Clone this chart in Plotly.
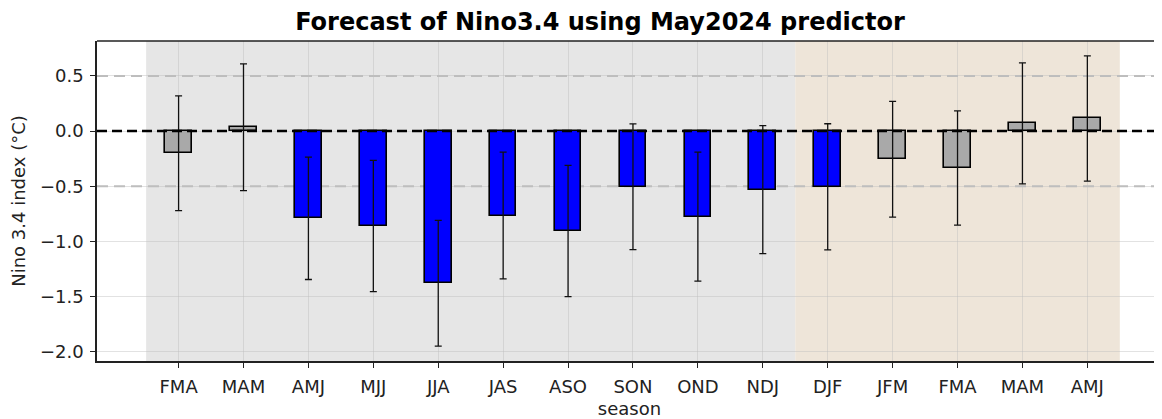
import plotly.graph_objects as go

seasons = ["FMA", "MAM", "AMJ", "MJJ", "JJA", "JAS", "ASO", "SON", "OND", "NDJ",
           "DJF", "JFM", "FMA", "MAM", "AMJ"]
forecast = [-0.20, 0.035, -0.79, -0.86, -1.38, -0.765, -0.905, -0.505, -0.775, -0.53,
            -0.505, -0.255, -0.335, 0.07, 0.115]
spread = [0.52, 0.575, 0.555, 0.595, 0.57, 0.575, 0.595, 0.57, 0.585, 0.58,
          0.572, 0.525, 0.518, 0.548, 0.568]
y_ticks = [-2.0, -1.5, -1.0, -0.5, 0.0, 0.5]

x_idx = list(range(len(seasons)))
colors = ["#0000ff" if v <= -0.5 else ("#ff0000" if v >= 0.5 else "#a9a9a9") for v in forecast]

FONT = "DejaVu Sans"
W, H = 1154, 411  # page body has an 8px margin

fig = go.Figure()
fig.add_trace(go.Bar(
    x=x_idx, y=forecast, width=0.41,
    marker=dict(color=colors, line=dict(color="black", width=1.6)),
    error_y=dict(type="data", array=spread, visible=True, color="#111",
                 thickness=1.3, width=3.5),
    showlegend=False,
))

shapes = [
    dict(type="rect", xref="x", yref="paper", x0=-0.5, x1=9.5, y0=0, y1=1,
         fillcolor="#e6e6e6", line=dict(width=0), layer="below"),
    dict(type="rect", xref="x", yref="paper", x0=9.5, x1=14.5, y0=0, y1=1,
         fillcolor="#eee5d9", line=dict(width=0), layer="below"),
    dict(type="line", xref="paper", yref="y", x0=0, x1=1, y0=0.5, y1=0.5,
         line=dict(color="#bdbdbd", width=2, dash="11px,6px"), layer="below"),
    dict(type="line", xref="paper", yref="y", x0=0, x1=1, y0=-0.5, y1=-0.5,
         line=dict(color="#bdbdbd", width=2, dash="11px,6px"), layer="below"),
    dict(type="line", xref="paper", yref="y", x0=0, x1=1, y0=0, y1=0,
         line=dict(color="black", width=2.5, dash="10px,5px"), layer="above"),
    dict(type="line", xref="paper", yref="paper", x0=0, x1=1, y0=1, y1=1,
         line=dict(color="#222", width=1.5), layer="above"),
]

fig.update_layout(
    width=W, height=H,
    margin=dict(l=89, r=0, t=33, b=58, autoexpand=False),
    paper_bgcolor="white", plot_bgcolor="white",
    font=dict(family=FONT, size=18, color="#222"),
    title=dict(text="<b>Forecast of Nino3.4 using May2024 predictor</b>",
               x=592 / W, xanchor="center", y=1 - 14 / H, yanchor="middle",
               font=dict(family=FONT, size=24, color="black")),
    shapes=shapes,
    bargap=0,
)

fig.update_xaxes(
    range=[-1.257, 15.15], automargin=False,
    tickvals=x_idx, ticktext=seasons,
    ticks="outside", ticklen=5, tickcolor="#222", tickwidth=1.3,
    ticklabelstandoff=4,
    showgrid=True, gridcolor="rgba(190,190,190,0.45)", gridwidth=1,
    showline=True, linecolor="#222", linewidth=1.5,
    zeroline=False,
    tickfont=dict(family=FONT, size=18, color="#222"),
    title=dict(text="season", font=dict(family=FONT, size=18, color="#222"), standoff=8),
)
fig.update_yaxes(
    range=[-2.084, 0.817], automargin=False,
    tickvals=y_ticks, ticktext=[f"{v:.1f}".replace("-", "\u2212") for v in y_ticks],
    ticks="outside", ticklen=5, tickcolor="#222", tickwidth=1.3,
    ticklabelstandoff=3,
    showgrid=True, gridcolor="rgba(190,190,190,0.45)", gridwidth=1,
    showline=True, linecolor="#222", linewidth=1.5,
    zeroline=False,
    tickfont=dict(family=FONT, size=18, color="#222"),
    title=dict(text="Nino 3.4 index (°C)", font=dict(family=FONT, size=18, color="#222"), standoff=12),
)

fig.write_html("out.html")
